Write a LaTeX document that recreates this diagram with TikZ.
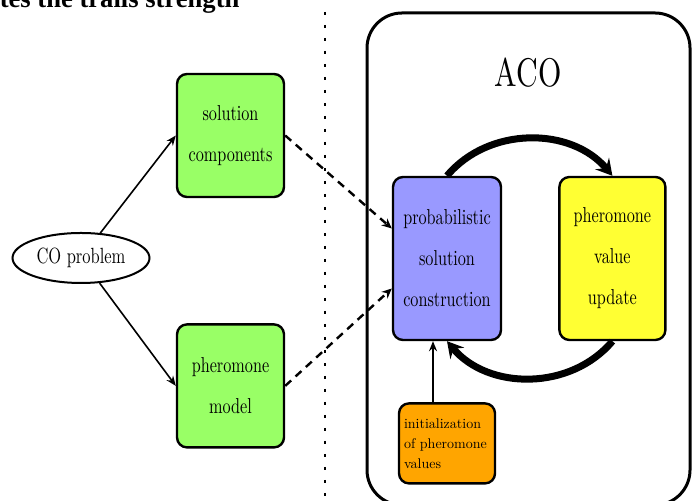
\documentclass[tikz,border=0pt]{standalone}
\usepackage{fontspec}
\usetikzlibrary{positioning,arrows.meta,shapes.geometric}
\newfontfamily\narrowfont{lmroman10-regular.otf}[FakeStretch=0.75]
\newfontfamily\smallfont{lmroman10-regular.otf}
\newfontfamily\headfont{Liberation Serif}
\definecolor{solgreen}{RGB}{153,255,102}
\definecolor{conblue}{RGB}{153,153,255}
\definecolor{updyellow}{RGB}{255,255,51}
\definecolor{iniorange}{RGB}{255,165,0}
\begin{document}
\begin{tikzpicture}[x=0.5pt, y=0.5pt, thick,
        box/.style = {draw, line width=1.2pt, rounded corners=5pt, inner sep=0pt, align=center, font=\fontsize{10.8pt}{20.5pt}\narrowfont},
        flow/.style = {line width=0.8pt, -{Stealth[length=5pt,width=4pt]}},
        hint/.style = {line width=1.2pt, dash pattern=on 4pt off 3pt, -{Stealth[length=5pt,width=4.5pt]}},
        roundtrip/.style = {line width=3.5pt, -{Stealth[length=8pt,width=9pt,inset=3pt]}},
        divider/.style = {line width=1pt, dash pattern=on 1.5pt off 5pt},
        acoframe/.style = {line width=1.5pt, rounded corners=17.5pt}]
        \useasboundingbox (0,0) rectangle (694,501);
        \clip (0,0) rectangle (694,501);
        \node[anchor=base west, inner sep=0pt, font=\fontsize{13.3pt}{16pt}\headfont\bfseries] (head) at (-1,493) {tes the trails strength};
        \draw[divider] (325,489) -- (325,-5);
        \draw[acoframe] (367,-4) rectangle (690,488);
        \node[font=\fontsize{20pt}{24pt}\narrowfont] (aco) at (528,428) {ACO};
        \node[draw, ellipse, line width=1pt, minimum width=68.5pt, minimum height=25pt, inner sep=0pt, font=\fontsize{11pt}{13pt}\narrowfont] (co) at (81,243) {CO problem};
        \node[box, fill=solgreen, minimum width=53.5pt, minimum height=61.5pt] (sc) at (230.5,365.5) {solution\\components};
        \node[box, fill=solgreen, minimum width=53.5pt, minimum height=61.5pt] (pm) [below=62.5pt of sc] {pheromone\\model};
        \node[box, fill=conblue, minimum width=54pt, minimum height=81.5pt] (pc) at (447,242.5) {probabilistic\\solution\\construction};
        \node[box, fill=updyellow, minimum width=53pt, minimum height=81.5pt] (pu) [right=28pt of pc] {pheromone\\value\\update};
        \node[box, fill=iniorange, minimum width=48pt, minimum height=40pt, text width=43pt, align=left, font=\fontsize{7pt}{10pt}\smallfont] (iv) [below=30.5pt of pc] {initialization\\of pheromone\\values};
        \draw[flow] (co) -- (sc.west);
        \draw[flow] (co) -- (pm.west);
        \draw[hint] (sc.east) -- ([yshift=15pt]pc.west);
        \draw[hint] (pm.east) -- ([yshift=-15pt]pc.west);
        \draw[roundtrip] (pc.north) to[bend left=50] (pu.north);
        \draw[roundtrip] (pu.south) to[bend left=50] (pc.south);
        \draw[flow, line width=1.2pt] ([xshift=-7pt]iv.north) -- ([xshift=-7pt]pc.south);
    \end{tikzpicture}
\end{document}
